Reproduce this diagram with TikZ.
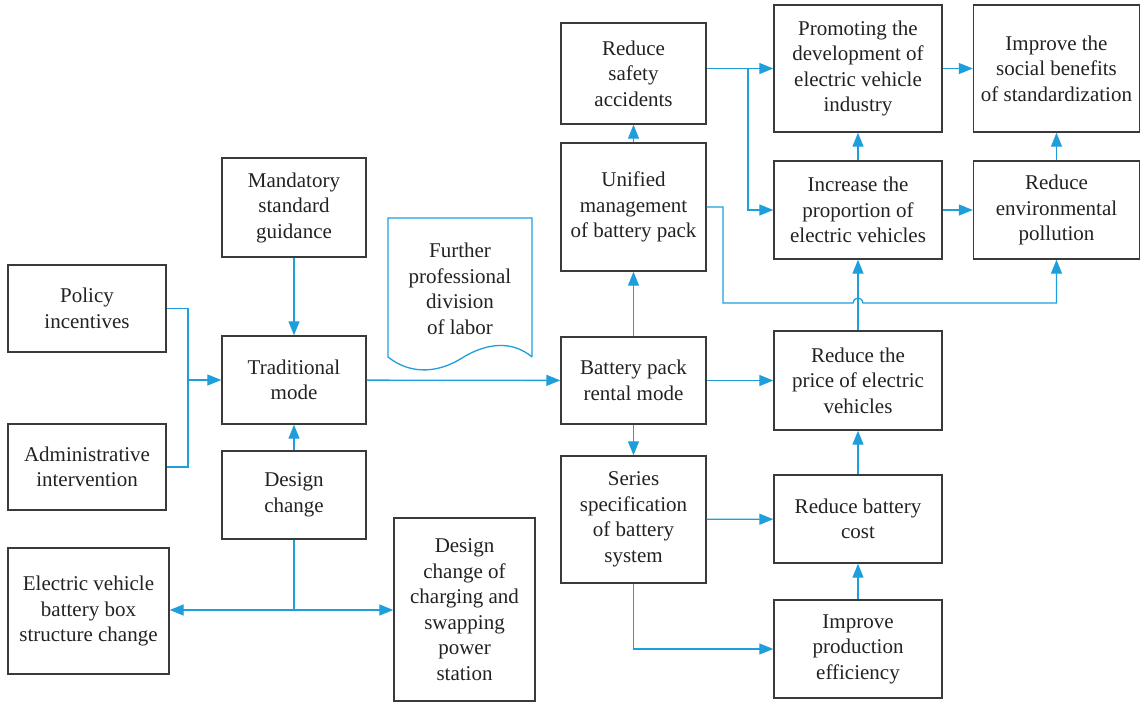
\documentclass[tikz,border=0pt]{standalone}
\usepackage{fontspec}
\setmainfont{Liberation Serif}
\usetikzlibrary{arrows.meta, calc}
\definecolor{cblue}{HTML}{1E9FDB}
\definecolor{cframe}{HTML}{3A3A3A}
\definecolor{ctext}{HTML}{222222}
\tikzset{
  every picture/.style={font=\fontsize{10.5}{12.75}\selectfont, text=ctext},
  box/.style={draw=cframe, line width=0.7pt, align=center, inner sep=2pt, minimum width=#1},
  box/.default=72pt,
  link/.style={draw=cblue, line width=0.65pt},
  arrow/.style={link, -{Triangle[length=7pt, width=5.5pt]}},
}
\begin{document}
\begin{tikzpicture}[x=0.5pt, y=-0.5pt]
  \useasboundingbox (0,0) rectangle (1141,703);
  % left part: measures that act on the traditional mode
  \node[box=79pt, minimum height=43.5pt] (pol) at (87,308.5) {Policy\\incentives};
  \node[box=79pt, minimum height=43pt] (adm) at (87,467) {Administrative\\intervention};
  \node[box, minimum height=49.5pt] (man) at (294,207.5) {Mandatory\\standard\\guidance};
  \node[box, minimum height=44pt] (trad) at (294,380) {Traditional\\mode};
  \node[box, minimum height=44pt] (dch) at (294,495) {Design\\change};
  \node[box=80.5pt, minimum height=63pt] (ebox) at (88.5,611) {Electric vehicle\\battery box\\structure change};
  \node[box=70.5pt, minimum height=91.5pt] (sta) at (464.5,609.5) {Design\\change of\\charging and\\swapping\\power\\station};
  % the document shape
  \draw[link] (532,357) -- (532,218) -- (388,218) -- (388,357)
    .. controls (412,376) and (440,372) .. (462,358)
    .. controls (486,343) and (512,340) .. (532,357);
  \node[align=center] (doc) at (460,289) {Further\\professional\\division\\of labor};
  % middle column
  \node[box=72.5pt, minimum height=50.5pt] (saf) at (633.5,73.5) {Reduce\\safety\\accidents};
  \node[box=72.5pt, minimum height=64pt] (uni) at (633.5,207) {Unified\\management\\of battery pack};
  \node[box=72.5pt, minimum height=43.5pt] (ren) at (633.5,380.5) {Battery pack\\rental mode};
  \node[box=72.5pt, minimum height=63.5pt] (ser) at (633.5,519.5) {Series\\specification\\of battery\\system};
  % right part: effects
  \node[box=84pt, minimum height=63.5pt] (pro) at (858,68.5) {Promoting the\\development of\\electric vehicle\\industry};
  \node[box=83pt, minimum height=63.5pt] (soc) at (1056.5,68.5) {Improve the\\social benefits\\of standardization};
  \node[box=84pt, minimum height=49pt] (inc) at (858,210) {Increase the\\proportion of\\electric vehicles};
  \node[box=83pt, minimum height=49pt] (env) at (1056.5,210) {Reduce\\environmental\\pollution};
  \node[box=84pt, minimum height=49.5pt] (pri) at (858,380.5) {Reduce the\\price of electric\\vehicles};
  \node[box=84pt, minimum height=44pt] (cst) at (858,519) {Reduce battery\\cost};
  \node[box=84pt, minimum height=49pt] (eff) at (858,649) {Improve\\production\\efficiency};
  % connectors on the left
  \coordinate (j1) at (188,380);
  \draw[link] (pol.east) -| (j1);
  \draw[link] (adm.east) -| (j1);
  \draw[arrow] (j1) -- (trad.west);
  \draw[arrow] (man) -- (trad);
  \draw[arrow] (dch) -- (trad);
  \coordinate (j2) at (294,610);
  \draw[link] (dch.south) -- (j2);
  \draw[arrow] (j2) -- (j2 -| ebox.east);
  \draw[arrow] (j2) -- (j2 -| sta.west);
  \draw[arrow] (trad) -- (ren);
  % connectors in the middle
  \foreach \a/\b in {ren/uni, uni/saf, ren/ser, ren/pri, ser/cst, eff/cst, cst/pri, pri/inc, inc/pro, inc/env, env/soc, pro/soc}
    \draw[arrow] (\a) -- (\b);
  \draw[arrow] (ser.south) |- (eff.west);
  \coordinate (j3) at (748,68.5);
  \draw[arrow] (saf.east |- pro.west) -- (pro.west);
  \draw[arrow] (j3) |- (inc.west);
  \coordinate (j4) at (723,303);
  \draw[arrow] (uni.east) -| (j4) -- ($(j4 -| inc.south)+(-5,0)$) arc (180:360:5) -| (env.south);
\end{tikzpicture}
\end{document}
